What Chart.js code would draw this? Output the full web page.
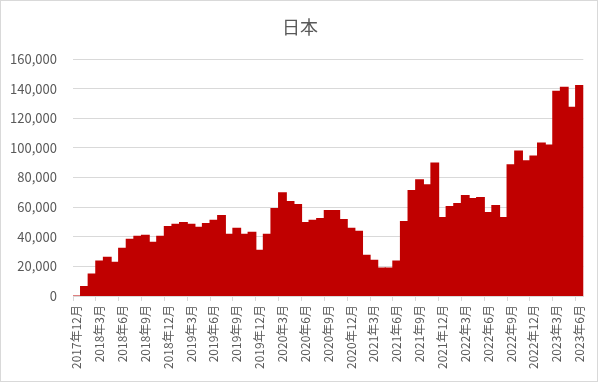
<!DOCTYPE html>
<html>
<head>
<meta charset="utf-8">
<script src="https://cdn.jsdelivr.net/npm/chart.js@4"></script>
<style>
  html, body { margin: 0; padding: 0; background: #fff; }
  #wrap { width: 598px; height: 382px; position: relative; }
</style>
</head>
<body>
<div id="wrap"><canvas id="chart" width="598" height="382"></canvas></div>
<script>
const title = "日本";

const months = [
  "2017年12月",
  "2018年1月","2018年2月","2018年3月","2018年4月","2018年5月","2018年6月",
  "2018年7月","2018年8月","2018年9月","2018年10月","2018年11月","2018年12月",
  "2019年1月","2019年2月","2019年3月","2019年4月","2019年5月","2019年6月",
  "2019年7月","2019年8月","2019年9月","2019年10月","2019年11月","2019年12月",
  "2020年1月","2020年2月","2020年3月","2020年4月","2020年5月","2020年6月",
  "2020年7月","2020年8月","2020年9月","2020年10月","2020年11月","2020年12月",
  "2021年1月","2021年2月","2021年3月","2021年4月","2021年5月","2021年6月",
  "2021年7月","2021年8月","2021年9月","2021年10月","2021年11月","2021年12月",
  "2022年1月","2022年2月","2022年3月","2022年4月","2022年5月","2022年6月",
  "2022年7月","2022年8月","2022年9月","2022年10月","2022年11月","2022年12月",
  "2023年1月","2023年2月","2023年3月","2023年4月","2023年5月","2023年6月"
];

const visitors = [
  0,
  6300, 14800, 23500, 26100, 22800, 32200,
  38200, 40200, 40900, 36200, 40200, 46900,
  48300, 49600, 48300, 46300, 48900, 51000,
  54300, 41600, 45600, 41600, 42900, 30800,
  41600, 59000, 69700, 63700, 61700, 49600,
  51000, 52300, 57700, 57700, 51600, 45600,
  43600, 27500, 24100, 18800, 18800, 23500,
  50300, 71100, 78400, 75100, 89800, 53000,
  60300, 62300, 67700, 65700, 66400, 56300,
  61000, 53000, 88500, 97900, 91200, 94500,
  103200, 101900, 138100, 140800, 127400, 142100
];

const yMax = 160000;
const yStep = 20000;

const textColor = "#595959";
const lineColor = "#d9d9d9";
const fontFamily = "'Noto Sans CJK JP', 'Noto Sans', sans-serif";

// chart frame + title, drawn by hand like the Excel chart area
const frame = {
  id: "frame",
  beforeDraw(chart) {
    const c = chart.ctx;
    c.save();
    c.fillStyle = "#fff";
    c.fillRect(0, 0, chart.width, chart.height);
    c.restore();
  },
  afterDraw(chart) {
    const c = chart.ctx;
    c.save();
    c.strokeStyle = lineColor;
    c.lineWidth = 1;
    c.strokeRect(0.5, 0.5, chart.width - 1, chart.height - 1);
    c.fillStyle = textColor;
    c.font = "18px " + fontFamily;
    c.textAlign = "center";
    c.textBaseline = "middle";
    c.fillText(title, 300, 27);
    c.restore();
  }
};

new Chart(document.getElementById("chart").getContext("2d"), {
  type: "bar",
  data: {
    labels: months,
    datasets: [{
      label: title,
      data: visitors,
      backgroundColor: "#C00000",
      borderWidth: 0,
      inflateAmount: 0.6,
      categoryPercentage: 1,
      barPercentage: 1,
    }]
  },
  options: {
    responsive: false,
    animation: false,
    layout: { padding: { top: 59, right: 14, bottom: 0, left: 0 } },
    plugins: { legend: { display: false }, tooltip: { enabled: false }, title: { display: false } },
    scales: {
      x: {
        afterFit: s => { s.height = 86; },
        grid: {
          drawOnChartArea: false,
          tickLength: 5,
          color: ctx => (ctx.index !== undefined && ctx.index % 3 === 0) ? lineColor : "transparent",
        },
        border: { color: lineColor },
        ticks: {
          autoSkip: false,
          minRotation: 90,
          maxRotation: 90,
          padding: 4,
          color: textColor,
          font: { family: fontFamily, size: 12 },
          callback: (v, i) => i % 3 === 0 ? months[i] : "",
        }
      },
      y: {
        min: 0,
        max: yMax,
        afterFit: s => { s.width = 73; },
        grid: { color: lineColor, drawTicks: false },
        border: { display: false },
        ticks: {
          stepSize: yStep,
          padding: 16,
          color: textColor,
          font: { family: fontFamily, size: 13 },
          callback: v => v.toLocaleString("en-US"),
        }
      }
    }
  },
  plugins: [frame]
});
</script>
</body>
</html>
